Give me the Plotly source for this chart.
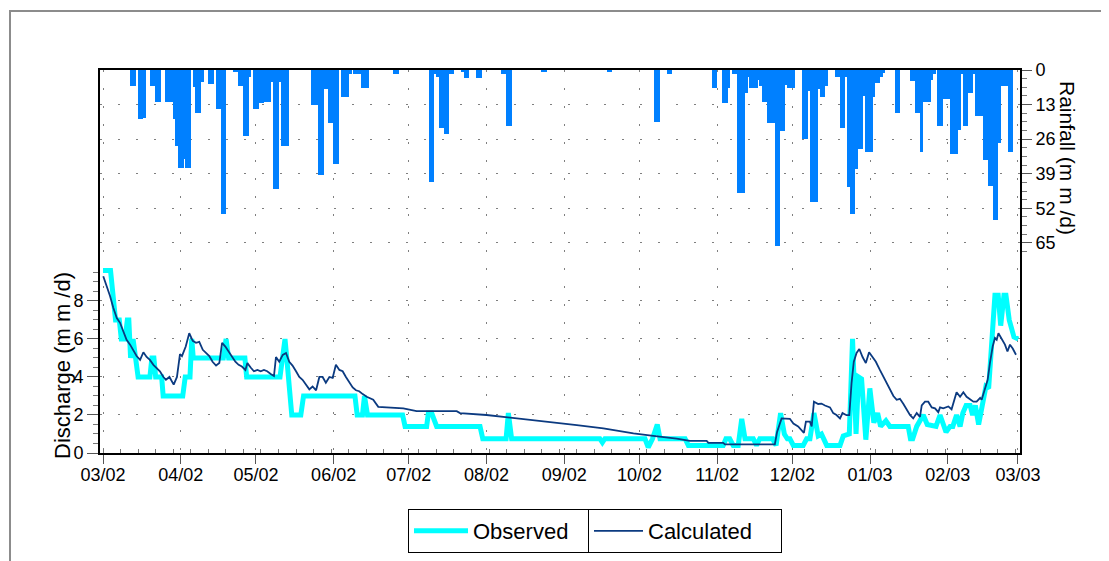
import pandas as pd
import plotly.graph_objects as go

START = pd.Timestamp("2002-03-01")  # day 0 of the record

# ---------------- data (days since 2002-03-01) ----------------
rain_day = [11, 12, 14, 15, 16, 19, 20, 21, 22, 25, 26, 27, 28, 29, 30, 31, 32, 33, 34,
            36, 37, 38, 39, 42, 43, 45, 46, 47, 48, 52, 53, 54, 55, 56, 57, 58,
            60, 61, 62, 63, 64, 65, 66, 67, 68, 69, 70, 71, 72, 73,
            83, 84, 85, 86, 87, 88, 89, 90, 91, 92, 93, 95, 96, 97, 98, 100, 101, 102,
            103, 104, 105, 116, 117,
            130, 131, 132, 133, 134, 135, 136, 137, 138, 139, 143, 144, 145, 149, 150,
            159, 160, 161, 162, 175, 176, 201, 202, 220, 221, 225, 226,
            243, 244, 247, 248, 249, 251, 252, 253, 254, 255, 256, 257, 258, 259, 260,
            261, 262, 263, 264, 265, 266, 267, 268, 269, 270, 271, 272, 273, 274, 275,
            279, 280, 281, 282, 283, 284, 285, 286, 287, 288,
            292, 293, 294, 295, 296, 297, 298, 299, 300, 301, 302, 303, 304, 305, 306,
            307, 308, 309, 310, 311, 316, 317,
            322, 323, 324, 325, 326, 327, 328, 329, 330, 331,
            333, 334, 335, 336, 337, 338, 339, 340, 341, 342, 343, 344, 345, 346, 347,
            348, 349, 350, 351, 352, 353, 354, 355, 356, 357, 358, 359, 360, 361, 362]
rain_mm = [6, 6, 18.5, 18.5, 18, 6, 6, 12, 12, 12, 12, 12, 18.5, 28.4, 36.7, 36.7, 33.6, 36.7, 36.7,
           6.5, 16.2, 16.2, 4.4, 5.1, 5.1, 14.8, 14.8, 54, 54, 0.8, 0.8, 6, 6, 24.7, 24.7, 2.7,
           14.8, 14.8, 12.5, 12.5, 12, 12, 12, 4.4, 44.9, 44.9, 4.4, 28.4, 28.4, 28.4,
           13.3, 13.3, 13.3, 39.6, 39.6, 7.3, 7.3, 20, 20, 35.2, 35.2, 10.3, 10.3, 10.3, 1.5, 1.5, 1.5, 1.5,
           6.6, 6.6, 6.6, 1.5, 1.5,
           42.1, 42.1, 1.5, 2.7, 21.7, 21.7, 23.9, 23.9, 1.5, 1.5, 0.5, 2.9, 2.9, 2.9, 2.9,
           1.5, 1.5, 21, 21, 0.5, 0.5, 0.5, 0.5, 19.4, 19.4, 1.5, 1.5,
           6.6, 6.6, 12.5, 12.5, 6.6, 1.5, 1.5, 46.4, 46.4, 46.4, 8.8, 2.7, 6.6, 6.6, 6.6,
           3.9, 6, 11.9, 11.9, 20, 20, 20, 66, 66, 22.9, 22.9, 5.6, 6.6, 6.6, 6.6,
           26, 26, 7.8, 49.5, 49.5, 49.5, 7.1, 10.3, 10.3, 6,
           2.7, 2.7, 21.7, 21.7, 2.7, 44.1, 54.1, 54.1, 37.3, 29.8, 29.8, 9.7, 30.7, 30.7, 30.7,
           10.3, 4.9, 4.9, 2.7, 1, 16.3, 16.3,
           4, 4, 16.3, 16.3, 30.7, 11.9, 11.9, 11.9, 3.9, 1.5,
           21, 21, 11, 11, 11, 31.6, 31.6, 31.6, 22.6, 1.5, 21, 21, 8.8, 8.8, 1.5,
           17.2, 17.2, 17.2, 33.8, 33.8, 43.6, 43.6, 56.4, 56.4, 27.6, 6, 6, 6, 30.7, 30.7]

obs_day = [0, 3, 4, 5, 6.5, 7.3, 8.8, 9.7, 10.3, 11, 12, 13, 14, 18.7, 19.5, 20.3, 21, 23.4, 24,
           31.8, 32.8, 34.7, 35.4, 36, 48, 49.1, 50.1, 56.6, 57.3, 70.6, 72.6, 73.3, 74.6, 75.3,
           78.9, 80, 100.5, 101.4, 103.5, 104.3, 105.5, 119.5, 120.5, 129.1, 129.8, 131.1, 133.1,
           150.4, 151.5, 160.8, 161.7, 163, 198.2, 199.2, 200.2, 216.2, 217.5, 219.2, 221.1, 222.2,
           232.2, 233.5, 247.4, 248.5, 250, 251.4, 253.4, 254.8, 256.1, 259.4, 260.7, 262, 267.1,
           268.5, 270.3, 271.8, 273, 274, 275.4, 279.3, 280.7, 282, 283.6, 285.3, 286.6, 287.3,
           288.7, 294, 295.3, 297.7, 299, 300.4, 301.4, 302.6, 303.5, 304.3, 305.9, 307.5, 309,
           310.2, 312.3, 313.9, 321.2, 322.1, 323, 324.6, 327.2, 328.8, 332.3, 333.9, 336.3, 337.9,
           339, 340.5, 341.9, 343, 344.3, 345.9, 346.9, 348, 349.3, 350.8, 352.2, 353.3, 354.5,
           355.8, 357.1, 358.1, 359.4, 360.2, 361.5, 363.4, 365.1]
obs_q = [9.6, 9.6, 8.3, 7.0, 7.0, 6.0, 6.0, 7.0, 7.0, 5.0, 6.0, 5.0, 4.0, 4.0, 5.0, 5.0, 4.0, 4.0, 3.0,
         3.0, 4.0, 4.0, 6.0, 5.0, 5.0, 6.0, 5.0, 5.0, 4.0, 4.0, 6.0, 5.0, 3.0, 2.0,
         2.0, 3.0, 3.0, 2.0, 2.0, 3.0, 2.0, 2.0, 1.4, 1.4, 2.1, 2.1, 1.4,
         1.4, 0.75, 0.75, 2.1, 0.75, 0.75, 0.55, 0.75, 0.75, 0.3, 0.75, 1.5, 0.75,
         0.75, 0.4, 0.4, 0.75, 0.75, 0.4, 0.4, 1.8, 0.75, 0.75, 0.4, 0.75, 0.75,
         0.4, 2.1, 1.0, 0.75, 0.75, 0.4, 0.4, 0.75, 0.75, 2.1, 0.9, 1.0, 0.75,
         0.4, 0.4, 0.9, 1.0, 6.0, 1.0, 4.0, 3.9, 1.5, 0.7, 3.4, 1.6, 2.1,
         1.4, 1.7, 1.4, 1.4, 0.75, 0.75, 1.4, 2.0, 1.5, 1.4, 2.0, 1.1, 1.4,
         1.4, 2.0, 1.4, 2.1, 2.5, 2.5, 2.0, 2.5, 1.5, 2.7, 3.5, 3.4, 6.0,
         8.3, 8.3, 6.7, 8.3, 8.3, 7.0, 6.1, 6.0]

calc_day = [0.1, 1.4, 2.8, 4.1, 5.5, 6.8, 8.1, 9.4, 10.8, 12.1, 13.4, 14.8, 16.1, 17.4, 18.7, 20.1,
            21.4, 22.7, 24.1, 25.1, 26.5, 28.2, 29.5, 30.7, 31.5, 33.0, 34.4, 35.8, 37.1, 38.4,
            39.8, 41.1, 42.4, 43.7, 45.1, 46.4, 47.5, 48.8, 50.1, 51.5, 52.8, 54.1, 55.4, 56.8,
            57.6, 58.9, 60.2, 61.6, 62.9, 64.2, 65.5, 66.9, 68.2, 69.0, 70.3, 71.7, 73.0, 74.3,
            75.6, 77.0, 78.3, 79.6, 81.0, 82.3, 83.6, 85.0, 86.3, 87.6, 88.9, 90.3, 91.6, 92.9,
            94.3, 95.6, 96.9, 98.3, 99.6, 100.9, 102.2, 103.6, 105.2, 107.8, 109.8, 119.8, 125.1,
            141.1, 142.4, 153.0, 159.7, 166.3, 174.3, 182.3, 189.0, 199.6, 205.0, 211.6, 219.5,
            228.8, 234.1, 240.8, 241.5, 247.4, 248.1, 268.0, 268.9, 270.7, 274.0, 275.4, 277.3,
            278.7, 279.6, 280.4, 282.0, 282.7, 283.6, 285.3, 286.6, 288.0, 290.0, 291.3, 292.6,
            294.0, 295.0, 296.6, 297.7, 298.6, 299.5, 300.6, 301.7, 303.0, 304.3, 305.6, 307.0,
            308.3, 309.9, 311.3, 312.6, 313.9, 315.3, 316.6, 317.9, 319.3, 320.6, 321.9, 323.2,
            324.6, 325.9, 326.6, 327.9, 329.2, 330.6, 331.9, 333.2, 333.9, 335.2, 337.2, 338.5,
            339.9, 340.5, 341.9, 343.2, 344.5, 345.9, 347.2, 348.5, 349.9, 350.5, 351.9, 352.9,
            353.8, 354.9, 355.8, 356.5, 357.2, 358.5, 359.8, 360.8, 361.8, 362.9, 364.2]
calc_q = [9.3, 8.8, 8.26, 7.64, 7.1, 6.85, 6.4, 5.96, 5.7, 5.43, 5.1, 4.9, 5.3, 5.05, 4.9, 4.64,
          4.46, 4.3, 4.0, 3.85, 4.0, 3.6, 4.0, 5.2, 5.1, 5.6, 6.3, 5.9, 5.8, 5.85,
          5.43, 5.26, 5.1, 4.8, 4.6, 4.73, 5.79, 5.6, 5.34, 5.05, 4.8, 4.64, 4.55, 4.37,
          4.73, 4.5, 4.3, 4.37, 4.3, 4.37, 4.3, 4.16, 4.05, 5.05, 4.8, 5.16, 5.26, 4.8,
          4.6, 4.3, 4.0, 3.85, 3.58, 3.35, 3.5, 3.3, 4.0, 4.0, 3.7, 4.0, 3.95, 4.64,
          4.37, 4.3, 4.0, 3.7, 3.45, 3.3, 3.25, 3.1, 2.96, 2.8, 2.43, 2.35, 2.2,
          2.2, 2.1, 2.0, 1.9, 1.82, 1.7, 1.6, 1.47, 1.3, 1.17, 1.03, 0.9,
          0.76, 0.64, 0.64, 0.53, 0.53, 0.45, 0.45, 1.11, 1.82, 1.8, 1.55, 1.4,
          1.2, 1.06, 1.65, 1.65, 1.4, 2.7, 2.58, 2.6, 2.5, 2.4, 2.1, 2.0,
          1.82, 2.1, 1.99, 1.99, 3.67, 4.8, 5.26, 5.47, 5.05, 4.73, 5.3, 5.05,
          4.8, 4.37, 4.0, 3.7, 3.35, 3.0, 2.8, 2.85, 2.58, 2.3, 2.0, 1.82,
          2.1, 1.9, 2.5, 2.7, 2.7, 2.4, 2.35, 2.15, 2.4, 2.35, 2.45, 2.3,
          2.96, 3.2, 2.96, 3.2, 2.96, 2.8, 2.7, 2.7, 2.9, 2.8, 3.5, 3.85,
          4.73, 5.6, 6.05, 5.96, 6.3, 5.96, 5.7, 5.34, 5.7, 5.5, 5.17]

discharge_ticks = [0, 2, 4, 6, 8]
rain_ticks = [0, 13, 26, 39, 52, 65]


def to_dates(days):
    return [START + pd.Timedelta(days=float(d)) for d in days]


FONT = "Liberation Sans, Arial, sans-serif"
DAY_MS = 86400000
GRID = dict(showgrid=True, gridcolor="#7f7f7f", gridwidth=1, griddash="2px,16px")

fig = go.Figure()
fig.add_trace(go.Bar(
    x=to_dates(rain_day), y=rain_mm, yaxis="y2", name="Rainfall",
    xperiod=DAY_MS, xperiodalignment="middle", width=1.25 * DAY_MS,
    marker=dict(color="#0080FF", line=dict(width=0)),
    showlegend=False, hoverinfo="x+y"))
fig.add_trace(go.Scatter(
    x=to_dates(obs_day), y=obs_q, mode="lines", name="Observed",
    line=dict(color="#00FFFF", width=5), legend="legend"))
fig.add_trace(go.Scatter(
    x=to_dates(calc_day), y=calc_q, mode="lines", name="Calculated",
    line=dict(color="#0B3A80", width=1.8), legend="legend2"))

# the page body adds an 8px offset; positions below are screen pixels
OFF = 8
FW, FH = 1109, 561
L, R, T, B = 100 - OFF, 1020 - OFF, 70 - OFF, 453 - OFF
W, H = R - L, B - T


def px(sx):
    return (sx - OFF - L) / W


def py(sy):
    return (B - (sy - OFF)) / H


LEG = dict(orientation="h", y=py(509), xanchor="left", yanchor="top",
           bordercolor="black", borderwidth=1, bgcolor="rgba(0,0,0,0)",
           font=dict(size=22))

fig.update_layout(
    width=FW, height=FH,
    margin=dict(l=L, r=FW - R, t=T, b=FH - B, autoexpand=False),
    paper_bgcolor="white", plot_bgcolor="white",
    font=dict(family=FONT, size=18, color="black"),
    bargap=0,
    xaxis=dict(
        type="date",
        range=[START - pd.Timedelta(days=1.2), START + pd.Timedelta(days=365.8)],
        tick0="2002-03-01", dtick="M1", tickformat="%m/%y",
        ticks="outside", ticklen=9, tickwidth=1, tickcolor="#555",
        tickfont=dict(size=18), ticklabelstandoff=-5,
        showline=True, linecolor="black", linewidth=2, mirror=True,
        minor=dict(tick0="2002-03-01", dtick=7 * DAY_MS, ticks="inside", ticklen=4,
                   tickcolor="#777", showgrid=False),
        **GRID),
    yaxis=dict(
        range=[0, 20.15], tickvals=discharge_ticks,
        ticks="outside", ticklen=11, tickcolor="#555", tickfont=dict(size=18),
        showline=True, linecolor="black", linewidth=2, mirror=True, zeroline=False,
        minor=dict(tickvals=[0.5, 1, 1.5, 2.5, 3, 3.5, 4.5, 5, 5.5, 6.5, 7, 7.5, 8.5, 9, 9.5],
                   ticks="outside", ticklen=5, tickcolor="#777", showgrid=False),
        **GRID),
    yaxis2=dict(
        overlaying="y", side="right", range=[144, 0], tickvals=rain_ticks,
        ticks="outside", ticklen=10, tickcolor="#555", tickfont=dict(size=18),
        showline=True, linecolor="black", linewidth=2, zeroline=False,
        minor=dict(tickvals=[3.25 * k for k in range(1, 22) if k % 4],
                   ticks="outside", ticklen=5, tickcolor="#777", showgrid=False),
        **GRID),
    legend=dict(LEG, x=px(408), entrywidth=110, itemwidth=54),
    legend2=dict(LEG, x=px(588), entrywidth=128, itemwidth=49),
    annotations=[
        dict(text="Discharge (m m /d)", textangle=-90, xref="paper", yref="paper",
             x=px(62), y=py(366), xanchor="center", yanchor="middle",
             showarrow=False, font=dict(size=22)),
        dict(text="Rainfall (m m /d)", textangle=90, xref="paper", yref="paper",
             x=px(1068), y=py(158), xanchor="center", yanchor="middle",
             showarrow=False, font=dict(size=21)),
    ],
    shapes=[
        dict(type="rect", xref="paper", yref="paper", x0=px(10), x1=px(1104),
             y0=py(620), y1=py(11), line=dict(color="#8c8c8c", width=2), layer="below"),
    ],
)

fig.write_html("out.html")
